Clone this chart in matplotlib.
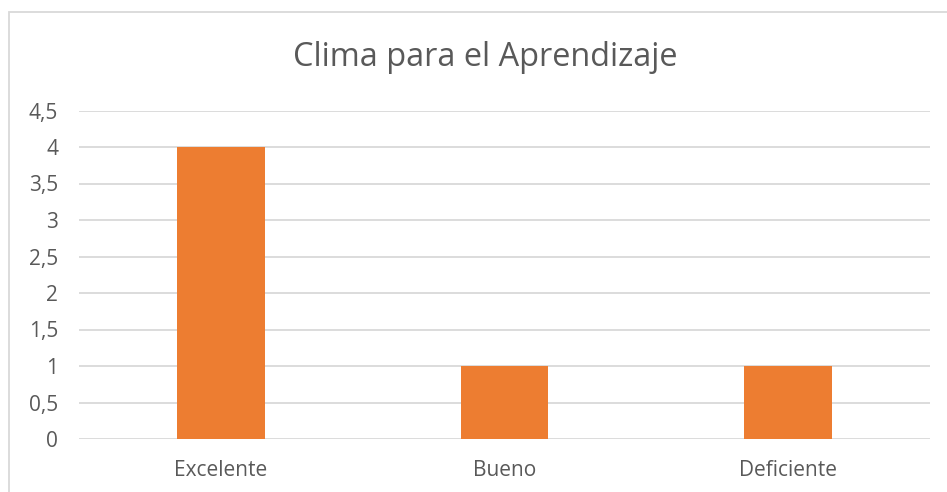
import matplotlib
matplotlib.use("Agg")
import matplotlib.pyplot as plt
from matplotlib.patches import Rectangle
from matplotlib.ticker import MultipleLocator, FuncFormatter

categories = ["Excelente", "Bueno", "Deficiente"]
values = [4, 1, 1]
title = "Clima para el Aprendizaje"

W, H = 947, 492
fig = plt.figure(figsize=(W / 100, H / 100), dpi=100)
plt.rcParams['font.family'] = ['Open Sans', 'DejaVu Sans']

text_color = "#595959"
grid_color = "#D9D9D9"
bar_color = "#ED7D31"

# chart frame
fig.patches.append(Rectangle((9 / W, -0.1), 1.2, (H - 12) / H + 0.1, transform=fig.transFigure,
                             fill=False, edgecolor=grid_color, linewidth=1.3))

left, right = 79, 930
y0, ytop = 439, 110.5
ax = fig.add_axes([left / W, (H - y0) / H, (right - left) / W, (y0 - ytop) / H])

x = list(range(len(categories)))
ax.bar(x, values, width=0.31, color=bar_color, zorder=3)
ax.set_xlim(-0.5, len(categories) - 0.5)
ax.set_ylim(0, 4.5)
ax.yaxis.set_major_locator(MultipleLocator(0.5))
ax.yaxis.set_major_formatter(FuncFormatter(lambda v, p: (f"{v:g}").replace(".", ",")))
ax.set_xticks(x)
ax.set_xticklabels(categories)
ax.grid(axis="y", color=grid_color, linewidth=1.3, zorder=0)
for s in ax.spines.values():
    s.set_visible(False)
ax.tick_params(axis="both", length=0, colors=text_color, labelsize=15)
ax.tick_params(axis="y", pad=15)
ax.tick_params(axis="x", pad=15)

fig.text(485 / W, 1 - 58 / H, title, ha="center", va="center", fontsize=23.4, color=text_color)

fig.savefig("out.png", dpi=100)
